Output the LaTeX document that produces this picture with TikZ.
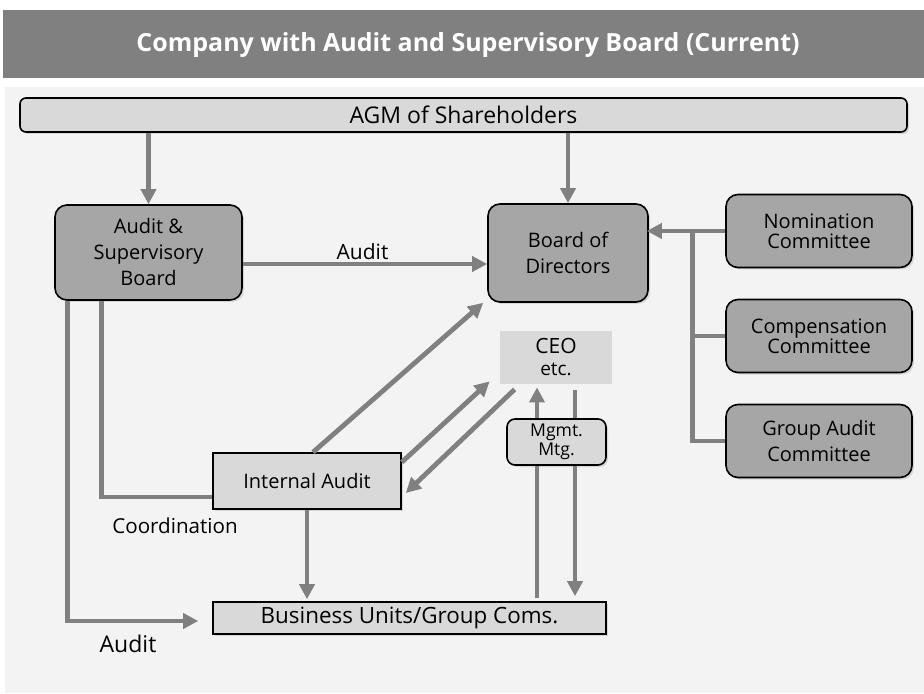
\documentclass[tikz,border=0pt]{standalone}
\usepackage{fontspec}
\setmainfont{Open Sans}
\usetikzlibrary{arrows.meta,positioning,shadows}
\definecolor{BarGray}{RGB}{128,128,128}
\definecolor{PanelGray}{RGB}{243,243,243}
\definecolor{OrganGray}{RGB}{166,166,166}
\definecolor{SheetGray}{RGB}{217,217,217}
\definecolor{FlowGray}{RGB}{128,128,128}
\tikzset{
  organ/.style={draw=black,thick,fill=OrganGray,rounded corners=6pt,align=center,
    inner sep=0pt,minimum width=93.5pt,minimum height=47.5pt,
    font=\fontsize{10}{13}\selectfont,
    drop shadow={opacity=0.25,shadow xshift=1pt,shadow yshift=-1pt}},
  cmte/.style={organ,minimum width=93pt,minimum height=36.5pt,
    font=\fontsize{10}{10}\selectfont},
  sheet/.style={draw=black,thick,fill=SheetGray,align=center,inner sep=0pt,
    font=\fontsize{10}{12}\selectfont,
    drop shadow={opacity=0.25,shadow xshift=1pt,shadow yshift=-1pt}},
  lbl/.style={black,font=\fontsize{10.3}{12}\selectfont,inner sep=1pt},
  flow/.style={FlowGray,line width=2.4pt,-{Triangle[length=7.5pt,width=7.5pt]}},
  link/.style={FlowGray,line width=2.4pt},
}
\begin{document}
\begin{tikzpicture}[x=0.5pt,y=-0.5pt]
  \useasboundingbox (0,0) rectangle (924,694);
  \fill[BarGray] (3,10) rectangle (924,78);
  \fill[PanelGray] (5,87) rectangle (924,693);
  \node[white,font=\fontsize{12.5}{14}\bfseries] (title) at (468,45)
    {Company with Audit and Supervisory Board (Current)};

  \node[sheet,rounded corners=3pt,minimum width=443.5pt,minimum height=17pt,
    font=\fontsize{11.5}{13}\selectfont] (agm) at (463.5,115) {AGM of Shareholders};
  \node[organ] (asb) at (148.5,252.5) {Audit \&\\Supervisory\\Board};
  \node[organ,minimum width=80pt,minimum height=49pt] (bod) at (568,253) {Board of\\Directors};
  \node[cmte] (nom) at (819,231) {Nomination\\Committee};
  \node[cmte] (comp) at (819,336) {Compensation\\Committee};
  \node[cmte,font=\fontsize{10}{13}\selectfont] (gac) at (819,441) {Group Audit\\Committee};
  \node[fill=SheetGray,align=center,inner sep=0pt,minimum width=56pt,minimum height=26.5pt,
    font=\fontsize{9.5}{11}\selectfont] (ceo) at (556,357.5)
    {{\fontsize{10.5}{11}\selectfont CEO}\\etc.};
  \node[sheet,minimum width=94pt,minimum height=28pt] (ia) at (307,481) {Internal Audit};
  \node[sheet,minimum width=196.5pt,minimum height=16pt,
    font=\fontsize{11.2}{13}\selectfont] (bu) at (409.5,618) {Business Units/Group Coms.};

  % shareholders elect both organs
  \draw[flow] (agm.south -| asb.north) -- (asb.north);
  \draw[flow] (agm.south -| bod.north) -- (bod.north);
  \draw[flow] ([yshift=-5.75pt]asb.east) -- ([yshift=-5.75pt]asb.east -| bod.west)
    node[lbl,above,pos=0.49,font=\fontsize{10.5}{12}\selectfont] {Audit};

  % committees report to the board
  \coordinate (bus) at ([xshift=-16.5pt]nom.west);
  \draw[flow] (nom.west) -- (bus) -- ([xshift=-1pt]bod.east |- bus);
  \draw[link] (bus) |- (gac.west);
  \draw[link] (comp.west) -- (comp.west -| bus);

  % internal audit lines
  \draw[flow] ([xshift=3pt]ia.north) -- ([xshift=-2pt]bod.south west);
  \draw[flow] ([yshift=-5pt]ia.north east) -- ([shift={(-5pt,1.5pt)}]ceo.south west);
  \draw[flow] ([shift={(7.5pt,-2.5pt)}]ceo.south west) -- ([shift={(2pt,-6pt)}]ia.east);
  \draw[flow] (ia.south) -- ([yshift=1pt]ia.south |- bu.north);

  % management meeting
  \draw[flow] ([xshift=-9.5pt,yshift=1.5pt]ceo.south |- bu.north) -- ([xshift=-9.5pt,yshift=-1.5pt]ceo.south);
  \draw[flow] ([xshift=9.5pt,yshift=-3pt]ceo.south) -- ([xshift=9.5pt,yshift=2.5pt]ceo.south |- bu.north);
  \node[sheet,rounded corners=4pt,minimum width=49.5pt,minimum height=23pt,
    font=\fontsize{8.8}{9.5}\selectfont] (mtg) at (556.5,442) {Mgmt.\\Mtg.};

  % audit & supervisory board to the line
  \draw[flow] ([xshift=6.5pt]asb.south west) |- ([xshift=-7pt,yshift=-1.5pt]bu.west);
  \draw[link] ([xshift=23.5pt]asb.south west) |- ([yshift=-8pt]ia.west);
  \node[lbl] (coord) at (175,526) {Coordination};
  \node[lbl,font=\fontsize{11.5}{13}\selectfont] (audlbl) at (128,644) {Audit};
\end{tikzpicture}
\end{document}
